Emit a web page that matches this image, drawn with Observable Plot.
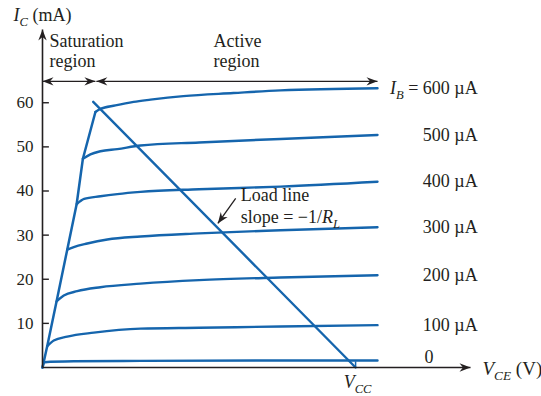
<!DOCTYPE html>
<html><head><meta charset="utf-8">
<script src="https://cdn.jsdelivr.net/npm/d3@7"></script>
<script src="https://cdn.jsdelivr.net/npm/@observablehq/plot@0.6"></script>
<style>body{margin:0;background:#fff}</style>
</head><body><div id="chart"></div>
<script>
// ---- data (V_CE in volts, I_C in mA; V_CC = 10 V) ----
const baseCurrents = [0, 100, 200, 300, 400, 500, 600]; // µA
const ib0   = [[0,0],[0.06,1.2],[1.0,1.4],[3.13,1.5],[7.6,1.6],[10.7,1.6]];
const ib100 = [[0.15,4.8],[0.36,6.1],[0.79,7.0],[1.64,7.9],[3.13,8.8],[5.0,9.0],[7.6,9.3],[10.7,9.6]];
const ib200 = [[0.45,15.0],[0.68,16.3],[1.11,17.3],[1.85,18.2],[3.13,19.0],[5.0,19.8],[7.6,20.4],[10.7,20.9]];
const ib300 = [[0.79,26.7],[1.0,27.3],[1.43,28.1],[2.07,29.0],[3.13,29.7],[5.0,30.4],[7.6,31.1],[10.7,31.8]];
const ib400 = [[1.09,37.0],[1.33,38.2],[1.85,38.8],[2.39,39.3],[3.13,39.8],[5.0,40.4],[7.6,41.0],[10.7,42.1]];
const ib500 = [[1.29,47.3],[1.53,48.3],[1.85,49.0],[2.39,49.5],[3.13,50.3],[5.0,51.0],[7.6,51.8],[10.7,52.7]];
const ib600 = [[1.69,57.9],[1.85,58.6],[2.33,59.4],[2.91,60.2],[3.45,60.7],[4.5,61.5],[6.1,62.2],[7.6,62.8],[10.7,63.3]];
const curveLabels = ["0", "100 µA", "200 µA", "300 µA", "400 µA", "500 µA", "*I*_{B} = 600 µA"];
const yTicks = [10, 20, 30, 40, 50, 60];
const VCC = 10;
const loadLine = [[1.62, 60.2], [VCC, 0]];
const X_MAX = 13.67, Y_MAX = 76.6;      // axis arrow tips
const REGION_Y = 64.85, SAT_END = 1.69, ACTIVE_START = 1.72, CURVE_END = 10.7;

// ---- styles ----
const BLUE = "#1565ad", INK = "#231f20";
const FONT = "'Liberation Serif', 'Times New Roman', serif";

const series = [ib0, ib100, ib200, ib300, ib400, ib500, ib600];
const activeRows = series.flatMap((pts, k) => pts.map(([x, y]) => ({x, y, ib: baseCurrents[k]})));
// saturation edge: origin through every knee (first point of each curve)
const satRows = [{x: 0, y: 0}, ...series.slice(1).map(pts => ({x: pts[0][0], y: pts[0][1]}))];
const endRows = series.map((pts, k) => ({x: pts[pts.length-1][0], y: pts[pts.length-1][1], label: curveLabels[k], ib: baseCurrents[k]}));
const loadRows = loadLine.map(([x, y]) => ({x, y}));

const chart = Plot.plot({
  width: 541, height: 396,
  marginLeft: 42, marginRight: 71, marginTop: 29, marginBottom: 29,
  x: {domain: [0, X_MAX], axis: null},
  y: {domain: [0, Y_MAX], axis: null},
  style: {fontFamily: FONT, color: INK, background: "#fff", overflow: "visible"},
  marks: [
    Plot.line(satRows, {x: "x", y: "y", stroke: BLUE, strokeWidth: 2.5}),
    Plot.line(activeRows, {x: "x", y: "y", z: "ib", stroke: BLUE, strokeWidth: 2.4, curve: "monotone-x"}),
    Plot.line(loadRows, {x: "x", y: "y", stroke: BLUE, strokeWidth: 2.4}),
    Plot.ruleX([VCC], {y1: 0, y2: 1.3, stroke: BLUE, strokeWidth: 1.5}),
    // axes
    Plot.link([{x1: 0, y1: 0, x2: X_MAX, y2: 0}, {x1: 0, y1: 0, x2: 0, y2: Y_MAX}],
      {x1: "x1", y1: "y1", x2: "x2", y2: "y2", stroke: INK, strokeWidth: 1.6, markerEnd: "arrow"}),
    Plot.ruleY(yTicks, {y: d => d, x1: 0, x2: 0.22, stroke: INK, strokeWidth: 1.4}),
    Plot.text(yTicks, {x: 0, y: d => d, text: d => String(d), textAnchor: "end", dx: -9, fontSize: 17, fill: INK}),
    Plot.text(["*I*_{C} (mA)"], {x: 0, y: Y_MAX, text: d => d, textAnchor: "start", dx: -29, dy: -14, fontSize: 18, fill: INK}),
    Plot.text(["*V*_{CE} (V)"], {x: X_MAX, y: 0, text: d => d, textAnchor: "start", dx: 12, dy: 1, fontSize: 19, fill: INK}),
    Plot.text(["*V*_{CC}"], {x: VCC, y: 0, text: d => d, textAnchor: "middle", dx: 2, dy: 15, fontSize: 18, fill: INK}),
    // region arrows
    Plot.link([{x1: 0, x2: SAT_END, y: REGION_Y}, {x1: ACTIVE_START, x2: CURVE_END, y: REGION_Y}],
      {x1: "x1", x2: "x2", y1: "y", y2: "y", stroke: INK, strokeWidth: 1.4, markerStart: "arrow-reverse", markerEnd: "arrow"}),
    Plot.text([{x: 0, t: "Saturation\nregion"}, {x: 5.24, t: "Active\nregion"}],
      {x: "x", y: REGION_Y, text: "t", textAnchor: "start", lineAnchor: "bottom", lineHeight: 1.12, dx: 7, dy: -14, fontSize: 18, fill: INK}),
    // curve labels
    Plot.text(endRows.filter(d => d.ib > 0), {x: 13.9, y: "y", text: "label", textAnchor: "end", fontSize: 18, fill: INK}),
    Plot.text(endRows.filter(d => d.ib === 0), {x: 12.2, y: "y", text: "label", textAnchor: "start", dy: -3, fontSize: 18, fill: INK}),
    // load line annotation
    Plot.text([{x: 6.33, y: 39.1, t: "Load line"}, {x: 6.33, y: 34.0, t: "slope = −1/*R*_{L}"}],
      {x: "x", y: "y", text: "t", textAnchor: "start", fontSize: 18, fill: INK}),
    Plot.link([{x1: 6.17, y1: 38.35, x2: 5.60, y2: 32.65}], {x1: "x1", y1: "y1", x2: "x2", y2: "y2", stroke: INK, strokeWidth: 1.3, markerEnd: "arrow"})
  ]
});

// barbed, filled arrowheads
d3.select(chart).selectAll("marker").each(function () {
  const m = d3.select(this);
  m.attr("viewBox", "-12 -6 14 12").attr("markerWidth", 14).attr("markerHeight", 12)
   .attr("markerUnits", "userSpaceOnUse").attr("refX", 0).attr("refY", 0)
   .attr("fill", INK).attr("stroke", "none");
  m.selectAll("*").remove();
  m.append("path").attr("d", "M0,0L-11,-4.2L-7.5,0L-11,4.2Z");
});

// italic / subscript markup in labels
d3.select(chart).selectAll("text").each(function () {
  const s = this.textContent;
  if (!/[*]|_\{/.test(s)) return;
  this.textContent = "";
  const re = /\*([^*]+)\*|_\{([^}]+)\}|([^*_]+)/g;
  let m, sub = false;
  while ((m = re.exec(s))) {
    const t = document.createElementNS("http://www.w3.org/2000/svg", "tspan");
    if (m[2] !== undefined) {
      t.textContent = m[2];
      t.setAttribute("font-style", "italic");
      t.setAttribute("font-size", "0.7em");
      t.setAttribute("dy", "5");
      sub = true;
    } else {
      t.textContent = m[1] !== undefined ? m[1] : m[3];
      if (m[1] !== undefined) t.setAttribute("font-style", "italic");
      if (sub) { t.setAttribute("dy", "-5"); sub = false; }
    }
    this.appendChild(t);
  }
});

document.getElementById("chart").appendChild(chart);
</script>
</body></html>
